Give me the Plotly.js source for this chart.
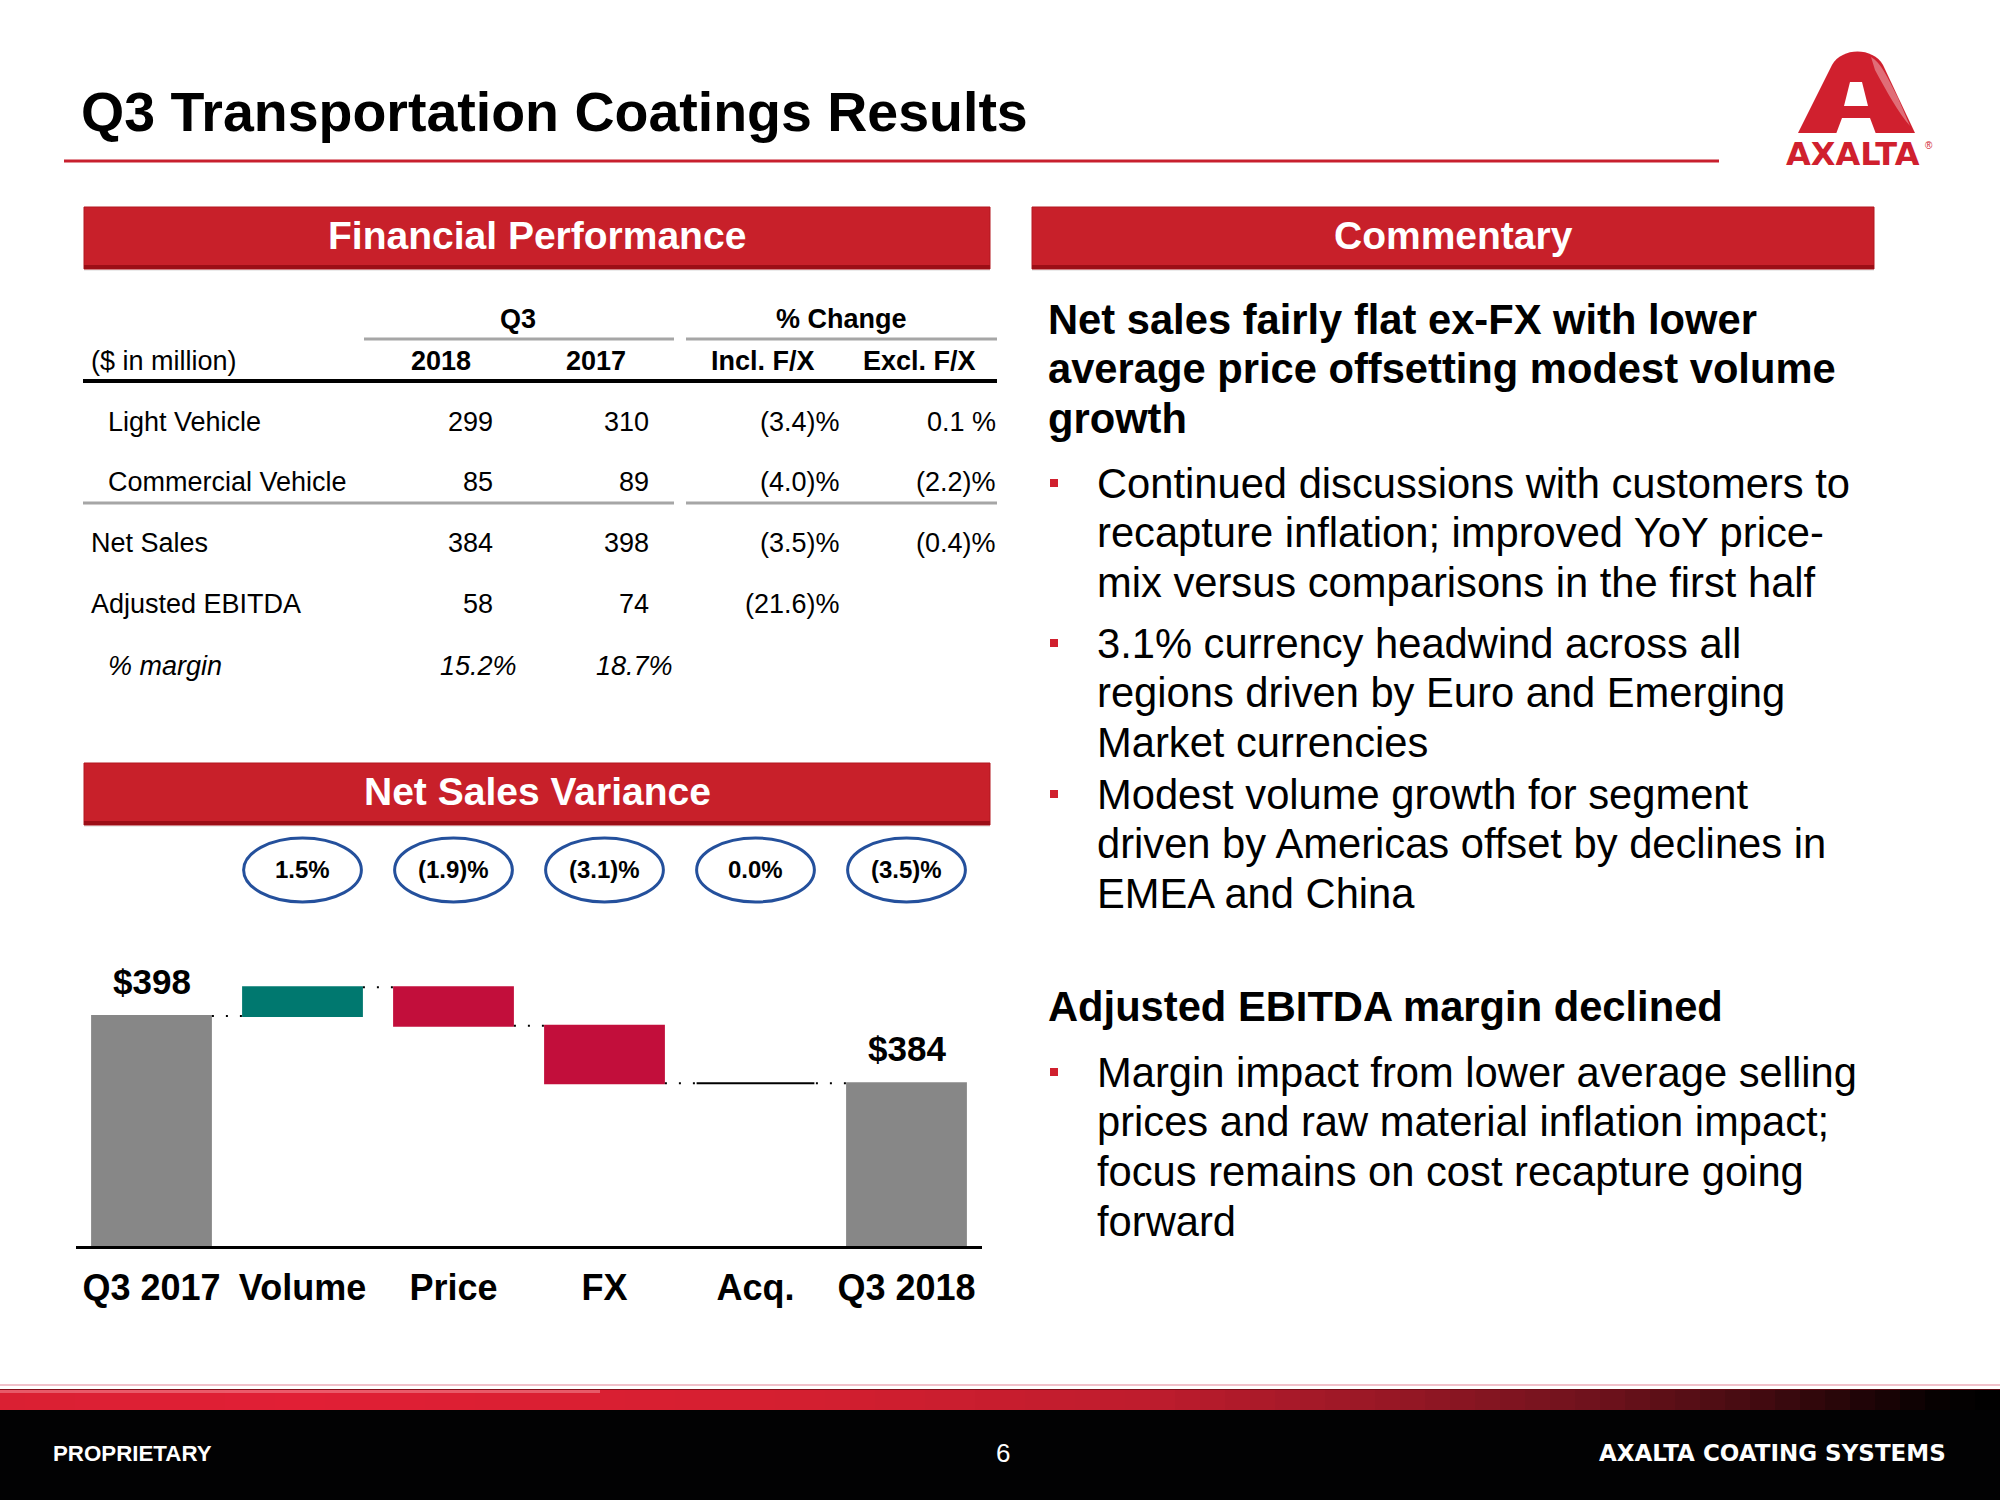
<!DOCTYPE html>
<html><head><meta charset="utf-8">
<script src="https://cdn.plot.ly/plotly-3.0.1.min.js"></script>
<style>html,body{margin:0;padding:0;background:#fff;} #chart{width:2000px;height:1500px;}</style>
</head><body><div id="chart"></div>
<script>
// ---------------- DATA ----------------
const categories = ['Q3 2017', 'Volume', 'Price', 'FX', 'Acq.', 'Q3 2018'];
const measures = ['absolute', 'relative', 'relative', 'relative', 'relative', 'total'];
const values = [398, 6, -8, -12, 0, 384];
const changeLabels = ['', '1.5%', '(1.9)%', '(3.1)%', '0.0%', '(3.5)%'];
const totalLabels = ['$398', '', '', '', '', '$384'];

const rowLabels = ['Light Vehicle', 'Commercial Vehicle', 'Net Sales', 'Adjusted EBITDA', '% margin'];
const q3_2018 = ['299', '85', '384', '58', '15.2%'];
const q3_2017 = ['310', '89', '398', '74', '18.7%'];
const chgInclFX = ['(3.4)%', '(4.0)%', '(3.5)%', '(21.6)%', ''];
const chgExclFX = ['0.1 %', '(2.2)%', '(0.4)%', '', ''];
const headerCols = ['2018', '2017', 'Incl. F/X', 'Excl. F/X'];

const heading1 = ['Net sales fairly flat ex-FX with lower', 'average price offsetting modest volume', 'growth'];
const bullet1 = ['Continued discussions with customers to', 'recapture inflation; improved YoY price-', 'mix versus comparisons in the first half'];
const bullet2 = ['3.1% currency headwind across all', 'regions driven by Euro and Emerging', 'Market currencies'];
const bullet3 = ['Modest volume growth for segment', 'driven by Americas offset by declines in', 'EMEA and China'];
const heading2 = ['Adjusted EBITDA margin declined'];
const bullet4 = ['Margin impact from lower average selling', 'prices and raw material inflation impact;', 'focus remains on cost recapture going', 'forward'];

// ---------------- HELPERS ----------------
const W = 2000, H = 1500;
const FONT = 'Liberation Sans, Arial, sans-serif';
const px = x => x / W;
const py = y => 1 - y / H;
const annotations = [];
const shapes = [];

function txt(text, x, y, size, o) {
  o = o || {};
  annotations.push({
    xref: 'paper', yref: 'paper', x: px(x), y: py(y),
    xanchor: o.anchor || 'left', yanchor: 'middle', showarrow: false,
    text: text, align: o.anchor || 'left',
    font: { family: o.family || FONT, size: size, color: o.color || '#000', weight: o.bold ? 700 : 400, style: o.italic ? 'italic' : 'normal' }
  });
}
function rect(x0, y0, x1, y1, fill, line) {
  shapes.push({ type: 'rect', xref: 'paper', yref: 'paper', x0: px(x0), x1: px(x1), y0: py(y1), y1: py(y0),
    fillcolor: fill, line: line || { width: 0 }, layer: 'above' });
}
function hline(x0, x1, y, color, width) {
  shapes.push({ type: 'line', xref: 'paper', yref: 'paper', x0: px(x0), x1: px(x1), y0: py(y), y1: py(y),
    line: { color: color, width: width }, layer: 'above' });
}
function pathPx(pts, fill) {
  const d = pts.map(s => s.replace(/(-?[\d.]+),(-?[\d.]+)/g, (m, a, b) => px(+a).toFixed(6) + ',' + py(+b).toFixed(6))).join(' ');
  shapes.push({ type: 'path', xref: 'paper', yref: 'paper', path: d, fillcolor: fill, line: { width: 0 }, layer: 'above' });
}
function redBox(x0, y0, x1, y1, label, cx, cy) {
  rect(x0, y0 + 2, x1, y1 + 2, 'rgba(0,0,0,0.08)');
  rect(x0, y0, x1, y1, '#C8202A', { color: '#B3161F', width: 1 });
  rect(x0, y1 - 4, x1, y1, '#9C0E16');
  txt(label, cx, cy, 39, { anchor: 'center', bold: true, color: '#FFFFFF' });
}

// ---------------- HEADER ----------------
txt('Q3 Transportation Coatings Results', 79, 112, 55.5, { bold: true });
hline(64, 1719, 161, '#C8202E', 3);

// logo
pathPx(['M1798,133 L1832,65 C1842,47 1873,47 1883,65 L1915,133 Z'], '#D0202E');
pathPx(['M1871,57 C1881,63 1887,76 1898,98 L1910,126 C1898,112 1887,92 1875,70 Z'], 'rgba(255,255,255,0.35)');
pathPx(['M1850,82 L1862,82 L1868,106 L1844,106 Z'], '#FFFFFF');
pathPx(['M1842,118 L1870,118 L1876,134 L1836,134 Z'], '#FFFFFF');
txt('AXALTA', 1853, 154, 32, { anchor: 'center', bold: true, color: '#D0202E', family: 'DejaVu Sans, sans-serif' });
txt('®', 1929, 145, 10, { anchor: 'center', color: '#D0202E' });

// section boxes
redBox(84, 207, 990, 269, 'Financial Performance', 537, 235);
redBox(1032, 207, 1874, 269, 'Commentary', 1453, 235);
redBox(84, 763, 990, 825, 'Net Sales Variance', 537, 791);

// ---------------- TABLE ----------------
const TS = 27;
txt('Q3', 518, 319, TS, { anchor: 'center', bold: true });
txt('% Change', 841, 319, TS, { anchor: 'center', bold: true });
hline(364, 674, 339, '#A6A6A6', 3);
hline(686, 997, 339, '#A6A6A6', 3);
txt('($ in million)', 89, 361, TS);
const headerX = [441, 596, 763, 919];
headerCols.forEach((h, i) => txt(h, headerX[i], 361, TS, { anchor: 'center', bold: true }));
hline(83, 997, 381, '#000000', 4);

const rowY = [422, 482, 543, 604, 666];
const rowIndent = [106, 106, 89, 89, 106];
rowLabels.forEach((lab, i) => {
  const it = (i === 4);
  txt(lab, rowIndent[i], rowY[i], TS, { italic: it });
  txt(q3_2018[i], it ? 519 : 495, rowY[i], TS, { anchor: 'right', italic: it });
  txt(q3_2017[i], it ? 675 : 651, rowY[i], TS, { anchor: 'right', italic: it });
  if (chgInclFX[i]) txt(chgInclFX[i], 842, rowY[i], TS, { anchor: 'right' });
  if (chgExclFX[i]) txt(chgExclFX[i], 998, rowY[i], TS, { anchor: 'right' });
});
hline(83, 674, 503, '#A6A6A6', 3);
hline(686, 997, 503, '#A6A6A6', 3);

// ---------------- COMMENTARY ----------------
const CS = 41.7, STEP = 49.7;
function block(lines, x, y0, bold, bullet) {
  lines.forEach((l, i) => txt(l, x, y0 + i * STEP, CS, { bold: bold }));
  if (bullet) rect(1050, y0 - 4, 1058, y0 + 4, '#D0202E');
}
block(heading1, 1046, 319, true, false);
block(bullet1, 1095, 483, false, true);
block(bullet2, 1095, 643, false, true);
block(bullet3, 1095, 794, false, true);
block(heading2, 1046, 1006, true, false);
block(bullet4, 1095, 1072, false, true);

// ---------------- FOOTER ----------------
const stops = [[0, [218, 32, 51]], [300, [225, 31, 53]], [800, [212, 31, 48]], [1150, [190, 28, 45]], [1400, [150, 23, 37]],
  [1600, [110, 18, 28]], [1750, [70, 11, 17]], [1870, [30, 4, 6]], [1940, [6, 1, 1]], [2000, [0, 0, 0]]];
function colAt(x) {
  for (let k = 0; k < stops.length - 1; k++) {
    const a = stops[k], b = stops[k + 1];
    if (x >= a[0] && x <= b[0]) {
      const t = (x - a[0]) / (b[0] - a[0]);
      const c = a[1].map((v, j) => Math.round(v + (b[1][j] - v) * t));
      return 'rgb(' + c.join(',') + ')';
    }
  }
  return '#000';
}
rect(0, 1410, 2000, 1500, '#020203');
const N = 80;
for (let k = 0; k < N; k++) {
  const x0 = k * W / N, x1 = (k + 1) * W / N + 0.5;
  rect(x0, 1389, x1, 1410, colAt((x0 + x1) / 2));
}
hline(0, 2000, 1389.5, 'rgba(110,10,20,0.8)', 1);
rect(0, 1390, 600, 1393, 'rgba(255,200,205,0.35)');
hline(0, 2000, 1385, 'rgba(225,120,140,0.45)', 2);
txt('PROPRIETARY', 51, 1453, 22.3, { bold: true, color: '#FFFFFF' });
txt('6', 1003, 1453, 26, { anchor: 'center', color: '#FFFFFF' });
txt('AXALTA COATING SYSTEMS', 1948, 1453, 23, { anchor: 'right', bold: true, color: '#FFFFFF', family: 'DejaVu Sans, sans-serif' });

// ---------------- WATERFALL ----------------
const xIdx = categories.map((c, i) => i);
const levels = [];
values.reduce((acc, v, i) => {
  const lvl = measures[i] === 'absolute' ? v : (measures[i] === 'total' ? acc : acc + v);
  levels.push(lvl); return lvl;
}, 0);

const traces = [{
  type: 'waterfall', x: xIdx, y: values, measure: measures, width: 0.8,
  increasing: { marker: { color: '#00786F', line: { width: 0 } } },
  decreasing: { marker: { color: '#C20E3B', line: { width: 0 } } },
  totals: { marker: { color: '#878787', line: { width: 0 } } },
  connector: { mode: 'between', line: { color: '#000000', width: 2, dash: '2px,12px' } },
  textinfo: 'none', hoverinfo: 'skip', showlegend: false
}];
// zero-value acquisition step drawn as a flat line at its level
const acqI = categories.indexOf('Acq.');
traces.push({
  type: 'scatter', mode: 'lines', x: [acqI - 0.39, acqI + 0.39], y: [levels[acqI], levels[acqI]],
  line: { color: '#000000', width: 2 }, hoverinfo: 'skip', showlegend: false
});

totalLabels.forEach((t, i) => {
  if (!t) return;
  annotations.push({ xref: 'x', yref: 'y', x: i, y: levels[i], yshift: 35, showarrow: false, text: t,
    xanchor: 'center', yanchor: 'middle', font: { family: FONT, size: 35, weight: 700, color: '#000' } });
});
changeLabels.forEach((t, i) => {
  if (!t) return;
  shapes.push({ type: 'circle', xref: 'x', yref: 'paper', x0: i - 0.39, x1: i + 0.39, y0: py(902), y1: py(838),
    line: { color: '#24509C', width: 3 }, fillcolor: 'rgba(0,0,0,0)', layer: 'above' });
  annotations.push({ xref: 'x', yref: 'paper', x: i, y: py(870), showarrow: false, text: t,
    xanchor: 'center', yanchor: 'middle', font: { family: FONT, size: 24, weight: 700, color: '#000' } });
});

const layout = {
  width: W, height: H, margin: { l: 0, r: 0, t: 0, b: 0 },
  paper_bgcolor: '#FFFFFF', plot_bgcolor: 'rgba(0,0,0,0)', showlegend: false,
  font: { family: FONT },
  xaxis: {
    domain: [px(76), px(982)], range: [-0.5, 5.5], tickvals: xIdx, ticktext: categories,
    showline: true, linecolor: '#000', linewidth: 3, ticks: '', showgrid: false, zeroline: false,
    tickfont: { family: FONT, size: 36, weight: 700, color: '#000' }, ticklabelstandoff: 8, fixedrange: true
  },
  yaxis: {
    domain: [py(1246), py(830)], range: [350, 350 + 416 / 4.79], visible: false, showgrid: false, zeroline: false, fixedrange: true
  },
  annotations: annotations, shapes: shapes
};
Plotly.newPlot('chart', traces, layout, { staticPlot: true, displayModeBar: false });
</script></body></html>
